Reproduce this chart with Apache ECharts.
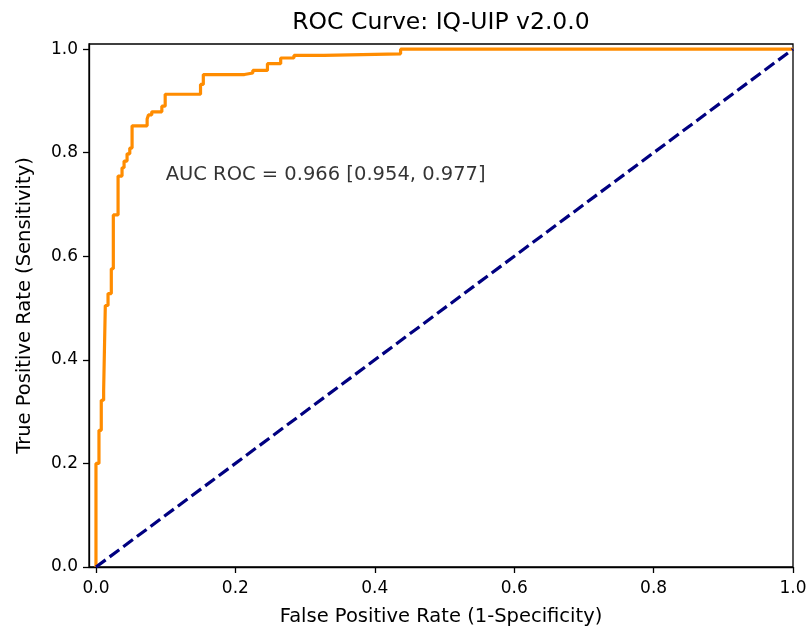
<!DOCTYPE html>
<html>
<head>
<meta charset="utf-8">
<script src="https://cdn.jsdelivr.net/npm/echarts@6/dist/echarts.min.js"></script>
<style>
html,body{margin:0;padding:0;background:#fff;}
#chart{width:809px;height:629px;}
</style>
</head>
<body>
<div id="chart"></div>
<script>
// ROC operating points (corner points of the step curve)
const fpr = [0, 0, 0.0043, 0.0043, 0.0076, 0.0076, 0.011, 0.011, 0.0134, 0.0134,
  0.0173, 0.0173, 0.022, 0.022, 0.0249, 0.0249, 0.0317, 0.0317, 0.0374, 0.0374,
  0.0403, 0.0403, 0.0446, 0.0446, 0.0485, 0.0485, 0.0518, 0.0518, 0.0734, 0.0734,
  0.0753, 0.0753, 0.080, 0.080, 0.0945, 0.0945, 0.0993, 0.0993, 0.150, 0.150,
  0.154, 0.154, 0.213, 0.213, 0.225, 0.225, 0.246, 0.246, 0.265, 0.265,
  0.284, 0.284, 0.327, 0.327, 0.437, 0.437, 1.0];
const tpr = [0, 0.200, 0.200, 0.264, 0.264, 0.322, 0.322, 0.341, 0.341, 0.505,
  0.505, 0.528, 0.528, 0.576, 0.576, 0.680, 0.680, 0.755, 0.755, 0.771,
  0.771, 0.784, 0.784, 0.798, 0.798, 0.809, 0.809, 0.852, 0.852, 0.865,
  0.865, 0.873, 0.873, 0.879, 0.879, 0.890, 0.890, 0.913, 0.913, 0.932,
  0.932, 0.951, 0.951, 0.954, 0.954, 0.959, 0.959, 0.972, 0.972, 0.983,
  0.983, 0.988, 0.988, 0.991, 0.991, 1.0, 1.0];
const chanceFpr = [0, 1];
const chanceTpr = [0, 1];
const xTicks = [0, 0.2, 0.4, 0.6, 0.8, 1.0];
const yTicks = [0, 0.2, 0.4, 0.6, 0.8, 1.0];
const titleText = 'ROC Curve: IQ-UIP v2.0.0';
const xName = 'False Positive Rate (1-Specificity)';
const yName = 'True Positive Rate (Sensitivity)';
const aucText = 'AUC ROC = 0.966 [0.954, 0.977]';
const aucAnchor = [0.1, 0.75];

const FONT = 'DejaVu Sans';
const chart = echarts.init(document.getElementById('chart'), null, {renderer: 'canvas'});
const rocData = fpr.map((x, i) => [x, tpr[i]]);
const chanceData = chanceFpr.map((x, i) => [x, chanceTpr[i]]);

chart.setOption({
  animation: false,
  backgroundColor: '#ffffff',
  title: {
    text: titleText,
    left: 441,
    top: 11,
    padding: 0,
    textAlign: 'center',
    textStyle: {fontFamily: FONT, fontSize: 23.5, fontWeight: 'normal', color: '#000'}
  },
  grid: {
    left: 89, right: 16, top: 44, bottom: 62,
    show: true, borderColor: '#000', borderWidth: 1.3, backgroundColor: '#fff',
    containLabel: false,
    outerBoundsMode: 'none'
  },
  xAxis: {
    type: 'value', min: -0.01, max: 1.0,
    name: xName, nameLocation: 'middle', nameGap: 40,
    nameTextStyle: {fontFamily: FONT, fontSize: 19.5, color: '#000'},
    axisLine: {show: true, onZero: false, lineStyle: {color: '#000', width: 1.3}},
    axisTick: {show: true, customValues: xTicks, length: 6, lineStyle: {color: '#000', width: 1.3}},
    axisLabel: {customValues: xTicks, margin: 13, fontFamily: FONT, fontSize: 17, color: '#000',
      formatter: v => Number(v).toFixed(1)},
    splitLine: {show: false}
  },
  yAxis: {
    type: 'value', min: 0, max: 1.01,
    name: yName, nameLocation: 'middle', nameGap: 54,
    nameTextStyle: {fontFamily: FONT, fontSize: 19.5, color: '#000'},
    axisLine: {show: true, onZero: false, lineStyle: {color: '#000', width: 1.3}},
    axisTick: {show: true, customValues: yTicks, length: 6, lineStyle: {color: '#000', width: 1.3}},
    axisLabel: {customValues: yTicks, margin: 11, fontFamily: FONT, fontSize: 17, color: '#000',
      formatter: v => Number(v).toFixed(1)},
    splitLine: {show: false}
  },
  series: [
    {
      type: 'line', name: 'ROC', data: rocData, showSymbol: false, symbol: 'none',
      lineStyle: {color: '#FF8C00', width: 3.2}, z: 2, silent: true
    },
    {
      type: 'line', name: 'Chance', data: chanceData, showSymbol: false, symbol: 'none',
      lineStyle: {color: '#000080', width: 3.2, type: [12, 5]}, z: 3, silent: true
    },
    {
      type: 'scatter', data: [aucAnchor], symbolSize: 0, silent: true, z: 4,
      label: {
        show: true, position: [0, 0], align: 'left', verticalAlign: 'bottom', offset: [0, 6],
        formatter: aucText, fontFamily: FONT, fontSize: 19.5, color: '#000'
      }
    }
  ]
});
</script>
</body>
</html>
